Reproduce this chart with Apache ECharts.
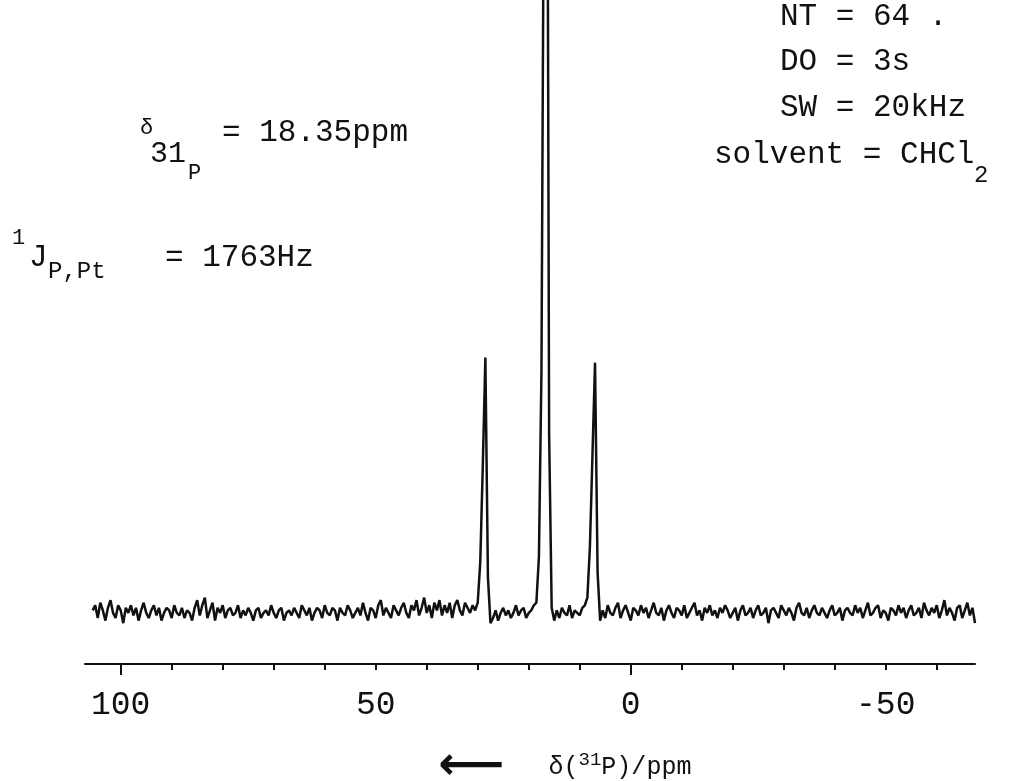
<!DOCTYPE html>
<html>
<head>
<meta charset="utf-8">
<script src="https://cdn.jsdelivr.net/npm/echarts@6/dist/echarts.min.js"></script>
<style>
html,body{margin:0;padding:0;background:#fff;}
#chart{width:1032px;height:781px;}
</style>
</head>
<body>
<div id="chart"></div>
<script>
// ---- data ----
const ppmStart = 105.5;   // first sampled shift (ppm)
const ppmStep = 0.5;      // sampling step (ppm)
const intensity = [
  1, 3, -2, 4, 1, -3, 2, 5, 0, -2, 3, 1, -4, 2, 0, 3, -1, 2, -3, 1,
  4, 0, -2, 1, 3, -1, 2, -3, 0, 2, 1, -2, 3, 0, -1, 2, -2, 1, 0, -3,
  2, 5, -1, 3, 6, -2, 1, 4, -3, 2, 0, 3, -2, 1, 2, -1, 0, 3, -2, 1,
  -1, 2, 0, -3, 1, 2, -2, 0, 1, -1, 3, 0, -2, 1, 2, -3, 0, 1, -1, 2,
  0, -2, 3, 1, -1, 2, -3, 0, 2, 1, -2, 3, 0, -1, 2, 1, -3, 2, 0, -1,
  3, 1, -2, 0, 2, -1, 4, 0, -3, 2, 1, -2, 3, 5, -1, 2, 0, -2, 3, 1,
  -1, 2, 4, 0, -2, 3, 1, 5, -1, 2, 6, 0, 3, -2, 4, 1, 5, -1, 3, 0,
  4, -2, 3, 5, 1, -1, 4, 2, 0, 3, 1,
  4, 20, 58, 100, 14, -4,
  -2, 1, -3, 0, 2, -1, 1, -2, 0, 3, -1, 1, 2, -2, 0, 1, 3, 4,
  22, 95, 310, 430, 70, 2,
  -3, 1, -2, 2, 0, -1, 3, -2, 1, 0, -1, 2, 3,
  6, 26, 62, 98, 16, -3,
  1, -2, 3, 0, -1, 2, 4, -2, 1, 3, 0, -3, 2, 1, -1, 3, 0, 2, -2, 1,
  4, 0, -1, 2, -3, 1, 3, 0, -2, 2, 1, -1, 3, -2, 0, 2, 4, -1, 1, -3,
  2, 0, 3, -1, 1, -2, 2, 0, 3, 1, -2, 0, 2, -3, 1, 3, -1, 0, 2, -2,
  1, 3, -1, 0, 2, -4, 1, 2, 0, -2, 3, 1, -1, 2, 0, -3, 2, 4, 0, -1,
  2, -2, 1, 3, 0, -1, 2, 0, -2, 1, 3, -1, 0, 2, -3, 1, 2, 0, -1, 3,
  0, 2, -2, 1, 4, -1, 0, 2, 3, -2, 1, 0, -3, 2, 1, -1, 3, 0, 2, -2,
  1, 3, -1, 0, 2, -2, 4, 1, -1, 2, 0, 3, -2, 1, 5, -1, 2, 0, -3, 2,
  3, -2, 1, 4, -1, 2, -4
];
const minorTickValues = [100, 90, 80, 70, 60, 50, 40, 30, 20, 10, 0, -10, -20, -30, -40, -50, -60];
const majorTickValues = [100, 0];
const tickLabelValues = [100, 50, 0, -50];
const axisMin = -67.5;
const axisMax = 107;

const spectrum = intensity.map((v, i) => [ppmStart - i * ppmStep, v]);

const INK = '#111';
const MONO = '"Liberation Mono", "DejaVu Sans Mono", monospace';

function txt(x, y, text, size) {
  return { type: 'text', x: x, y: y,
    style: { text: text, fontSize: size, fontFamily: MONO, fill: INK, verticalAlign: 'middle', align: 'left' } };
}

const chart = echarts.init(document.getElementById('chart'));
chart.setOption({
  animation: false,
  backgroundColor: '#fff',
  grid: { left: 85, right: 57, top: 0, bottom: 117, containLabel: false, outerBoundsMode: 'none' },
  xAxis: [
    {
      type: 'value', inverse: true, min: axisMin, max: axisMax,
      axisLine: { show: true, onZero: false, lineStyle: { color: INK, width: 2.2 } },
      axisTick: { show: true, length: 6, lineStyle: { color: INK, width: 2 }, customValues: minorTickValues },
      axisLabel: { show: true, customValues: tickLabelValues, margin: 25, color: INK, fontSize: 33, fontFamily: MONO,
        formatter: v => String(v) },
      splitLine: { show: false },
      name: '{arr|⟵}{gap|}{t|δ(}{sup|31}{t|P)/ppm}',
      nameLocation: 'middle', nameGap: 80,
      nameTextStyle: {
        padding: [0, 0, 0, 70],
        rich: {
          arr: { fontSize: 46, fontFamily: '"DejaVu Sans"', color: INK, fontWeight: 'bold' },
          gap: { width: 44 },
          t: { fontSize: 25, fontFamily: MONO, color: INK },
          sup: { fontSize: 19, fontFamily: MONO, color: INK, padding: [0, 0, 14, 0] }
        }
      }
    },
    {
      type: 'value', inverse: true, min: axisMin, max: axisMax, position: 'bottom',
      axisLine: { show: false, onZero: false },
      axisTick: { show: true, length: 11, lineStyle: { color: INK, width: 2 }, customValues: majorTickValues },
      axisLabel: { show: false },
      splitLine: { show: false }
    }
  ],
  yAxis: {
    type: 'value', min: -20, max: 240, show: false,
    splitLine: { show: false }
  },
  series: [{
    type: 'line', xAxisIndex: 0, data: spectrum, showSymbol: false, symbol: 'none',
    lineStyle: { color: INK, width: 2.5 }, clip: true, silent: true
  }],
  graphic: [
    txt(780, 17, 'NT = 64 .', 31),
    txt(780, 62, 'DO = 3s', 31),
    txt(780, 108, 'SW = 20kHz', 31),
    txt(714, 155, 'solvent = CHCl', 31),
    txt(974, 176, '2', 24),
    txt(140, 128, 'δ', 22),
    txt(150, 154, '31', 30),
    txt(188, 173, 'P', 22),
    txt(222, 133, '= 18.35ppm', 31),
    txt(12, 238, '1', 22),
    txt(29, 258, 'J', 31),
    txt(48, 272, 'P,Pt', 24),
    txt(165, 258, '= 1763Hz', 31)
  ]
});
</script>
</body>
</html>
